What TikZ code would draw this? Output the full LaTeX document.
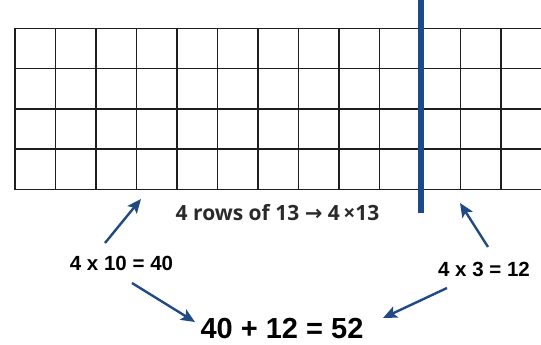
\documentclass[tikz,border=0pt]{standalone}
\usepackage{fontspec}
\setmainfont{Liberation Sans}
\newfontfamily\capfont{Open Sans}
\newfontfamily\symfont{DejaVu Sans}
\usetikzlibrary{arrows.meta}
\definecolor{arrowblue}{HTML}{1F4A86}
\definecolor{barblue}{HTML}{1B4A8A}
\definecolor{gridgray}{HTML}{1E1E1E}
\definecolor{captext}{HTML}{2A2A2A}
\tikzset{
  gridline/.style={draw=gridgray, line width=1.5pt},
  bluebar/.style={draw=barblue, line width=5.5pt},
  arr/.style={draw=arrowblue, line width=2.4pt, -{Stealth[length=14pt,width=12pt,inset=3pt]}},
  eqlabel/.style={inner sep=0pt, font=\bfseries\fontsize{20.5}{24}\selectfont, text=black},
  sumlabel/.style={inner sep=0pt, font=\bfseries\fontsize{29}{34}\selectfont, text=black},
  caplabel/.style={inner sep=0pt, font=\capfont\bfseries\fontsize{21}{25}\selectfont, text=captext}
}
\begin{document}
\begin{tikzpicture}[x=1pt,y=-1pt]
\useasboundingbox (0,0) rectangle (541,345);
\fill[white] (0,0) rectangle (541,345);
% grid
\foreach \i in {0,...,13} {
  \draw[gridline] ({15+\i*40.5},28.5) -- ({15+\i*40.5},189.3);
}
\foreach \yy in {28.5,68.7,108.9,149.1,189.3} {
  \draw[gridline] (14.3,\yy) -- (545,\yy);
}
% blue divider
\draw[bluebar] (421,-2) -- (421,213);
% texts
\node[caplabel] (cap) at (277.5,212.5) {4 rows of 13 {\symfont\bfseries →} 4\,×13};
\node[eqlabel] (left) at (121.5,263) {4 x 10 = 40};
\node[eqlabel] (right) at (484,269) {4 x 3 = 12};
\node[sumlabel] (sum) at (282,329) {40 + 12 = 52};
% arrow end points
\coordinate (lt) at (105,243);
\coordinate (lg) at (141,199);
\coordinate (lb) at (132,283);
\coordinate (sl) at (195,322);
\coordinate (rt) at (488,247);
\coordinate (rg) at (460,203);
\coordinate (rb) at (447,288);
\coordinate (sr) at (383,318);
\draw[arr] (lt) -- (lg);
\draw[arr] (lb) -- (sl);
\draw[arr] (rt) -- (rg);
\draw[arr] (rb) -- (sr);
\end{tikzpicture}
\end{document}
